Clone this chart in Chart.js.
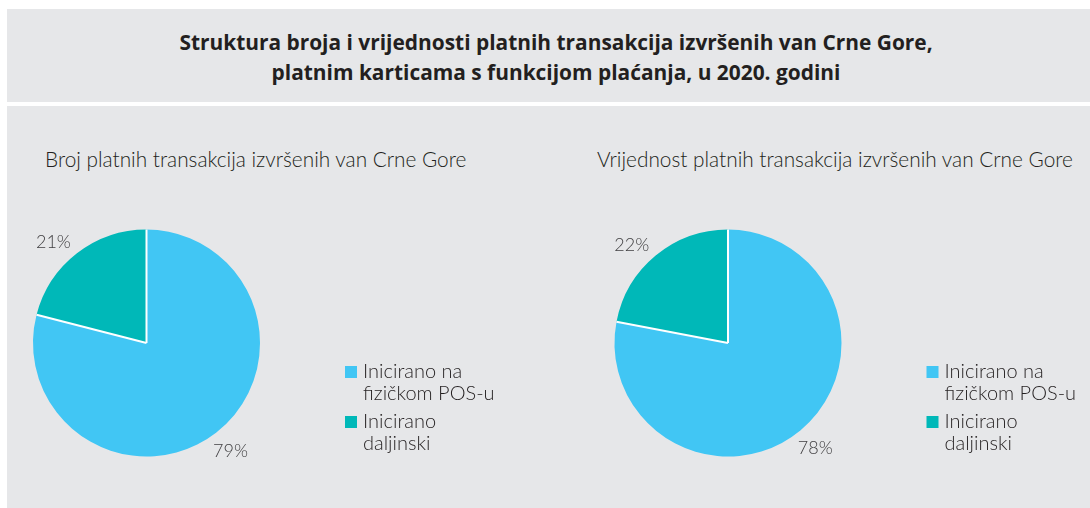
<!DOCTYPE html>
<html>
<head>
<meta charset="utf-8">
<script src="https://cdn.jsdelivr.net/npm/chart.js@4"></script>
<style>
  body { margin: 0; background: #ffffff; width: 1090px; height: 508px; position: relative; overflow: hidden; }
  .panel { position: absolute; left: 7px; width: 1083px; background: #e6e7e9; }
  #naslov { top: 9px; height: 93px; }
  #sadrzaj { top: 106px; height: 402px; }
  #naslov div { position: absolute; left: 0; width: 1098px; text-align: center; font-family: "Open Sans", sans-serif; font-weight: 700; font-size: 20.9px; color: #231f20; }
  .podnaslov { position: absolute; top: 146px; font-family: Lato, sans-serif; font-weight: 300; font-size: 20.8px; color: #231f20; white-space: nowrap; }
  canvas { position: absolute; top: 106px; }
</style>
</head>
<body>
<div class="panel" id="naslov">
  <div style="top: 19px;">Struktura broja i vrijednosti platnih transakcija izvršenih van Crne Gore,</div>
  <div style="top: 49px;">platnim karticama s funkcijom plaćanja, u 2020. godini</div>
</div>
<div class="panel" id="sadrzaj"></div>
<div class="podnaslov" id="naslovBroj" style="left: 45px;"></div>
<div class="podnaslov" id="naslovVrijednost" style="left: 597px;"></div>
<canvas id="canvasBroj" width="545" height="402" style="left: 0;"></canvas>
<canvas id="canvasVrijednost" width="545" height="402" style="left: 545px;"></canvas>
<script>
  const kategorije = [["Inicirano na", "fizičkom POS-u"], ["Inicirano", "daljinski"]];
  const udioBroj = [79, 21];
  const udioVrijednost = [78, 22];
  const naslovi = [
    "Broj platnih transakcija izvršenih van Crne Gore",
    "Vrijednost platnih transakcija izvršenih van Crne Gore"
  ];
  const boje = ["#41c6f4", "#00b8b8"];

  document.getElementById("naslovBroj").textContent = naslovi[0];
  document.getElementById("naslovVrijednost").textContent = naslovi[1];

  // bijele linije izmedju isjecaka, procenti i legenda sa strane
  const pitaDodaci = {
    id: "pitaDodaci",
    afterDatasetsDraw(chart) {
      const ctx = chart.ctx;
      const meta = chart.getDatasetMeta(0);
      const ds = chart.data.datasets[0];
      const pomak = [0, -5];
      ctx.save();
      meta.data.forEach(function (arc, i) {
        const p = arc.getProps(["x", "y", "startAngle", "endAngle", "outerRadius"], true);
        ctx.strokeStyle = "#ffffff";
        ctx.lineWidth = 2;
        ctx.beginPath();
        ctx.moveTo(p.x, p.y);
        ctx.lineTo(p.x + Math.cos(p.startAngle) * p.outerRadius, p.y + Math.sin(p.startAngle) * p.outerRadius);
        ctx.stroke();

        const ugao = (p.startAngle + p.endAngle) / 2 + pomak[i] * Math.PI / 180;
        const d = p.outerRadius + 23.5;
        ctx.fillStyle = "#414042";
        ctx.font = "300 18px Lato, sans-serif";
        ctx.textAlign = "center";
        ctx.textBaseline = "middle";
        ctx.fillText(ds.data[i] + "%", p.x + Math.cos(ugao) * d, p.y + Math.sin(ugao) * d);
      });

      // legenda
      const area = chart.chartArea;
      const cy = (area.top + area.bottom) / 2;
      let lx = area.right + 85;
      let ly = cy + 23;
      chart.data.labels.forEach(function (lab, i) {
        ctx.fillStyle = ds.backgroundColor[i];
        ctx.fillRect(lx, ly, 12, 12);
        ctx.fillStyle = "#231f20";
        ctx.font = "300 20px Lato, sans-serif";
        ctx.textAlign = "left";
        ctx.textBaseline = "middle";
        lab.forEach(function (red, j) {
          ctx.fillText(red, lx + 18, ly + 6 + j * 22);
        });
        ly += 50;
      });
      ctx.restore();
    }
  };

  function napraviPitu(id, podaci, lijevo, desno) {
    return new Chart(document.getElementById(id).getContext("2d"), {
      type: "pie",
      data: {
        labels: kategorije,
        datasets: [{
          data: podaci,
          backgroundColor: boje,
          borderWidth: 0
        }]
      },
      options: {
        responsive: false,
        animation: false,
        layout: {
          padding: { left: lijevo, right: desno, top: 123.5, bottom: 51.5 }
        },
        plugins: {
          legend: { display: false },
          tooltip: { enabled: false }
        }
      },
      plugins: [pitaDodaci]
    });
  }

  window.diagramBroj = napraviPitu("canvasBroj", udioBroj, 33, 285);
  window.diagramVrijednost = napraviPitu("canvasVrijednost", udioVrijednost, 69.5, 248.5);
</script>
</body>
</html>
